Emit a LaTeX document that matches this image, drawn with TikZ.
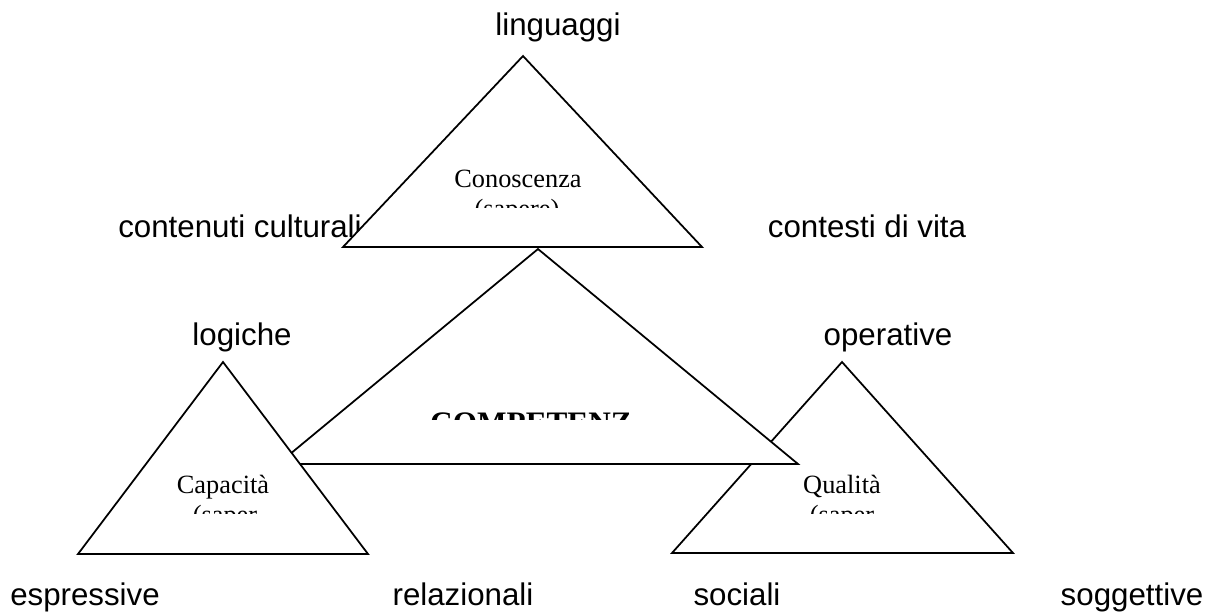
\documentclass[tikz,border=0pt]{standalone}
\usepackage{fontspec}
\setmainfont{Liberation Sans}
\newfontfamily\serifface{Liberation Serif}
\begin{document}
\begin{tikzpicture}
    [
    x=0.02cm, y=-0.02cm,
    tri/.style={draw,fill=white,line width=1pt,line join=miter},
    word/.style={anchor=base,inner sep=0pt,font=\fontsize{17.8}{21}\selectfont},
    inside/.style={anchor=base,inner sep=0pt,font=\serifface\fontsize{15}{18}\selectfont}
    ]
    \useasboundingbox (0,0) rectangle (1222,613);
    % labels round the triangles
    \node (lng) at (558,35) [word] {linguaggi};
    \node (cul) at (240,237) [word] {contenuti culturali};
    \node (vit) at (867,237) [word] {contesti di vita};
    \node (log) at (242,345) [word] {logiche};
    \node (ope) at (888,345) [word] {operative};
    \node (esp) at (85,605) [word] {espressive};
    \node (rel) at (463,605) [word] {relazionali};
    \node (soc) at (737,605) [word] {sociali};
    \node (sog) at (1132,605) [word] {soggettive};

    % qualita
    \draw [tri] (672,553) -- (842,362) -- (1013,553) -- cycle;
    \node (qua) at (842,493) [inside] {Qualità};
    \begin{scope}
      \clip (780,495) rectangle (900,513);
      \node (qsa) at (842,523) [inside] {(saper};
    \end{scope}

    % competenze
    \draw [tri] (278,464) -- (538,249) -- (798,464) -- cycle;
    \begin{scope}
      \clip (400,400) rectangle (660,419);
      \node (com) at (531,433) [inside,font=\serifface\bfseries\fontsize{17.8}{21}\selectfont] {COMPETENZ};
    \end{scope}

    % capacita
    \draw [tri] (78,554) -- (223,362) -- (368,554) -- cycle;
    \node (cap) at (223,493) [inside] {Capacità};
    \begin{scope}
      \clip (160,495) rectangle (290,513);
      \node (csa) at (225,523) [inside] {(saper};
    \end{scope}

    % conoscenza
    \draw [tri] (343,247) -- (523,56) -- (702,247) -- cycle;
    \node (con) at (518,187) [inside] {Conoscenza};
    \begin{scope}
      \clip (440,190) rectangle (600,207);
      \node (ksa) at (517,217) [inside] {(sapere)};
    \end{scope}
  \end{tikzpicture}
\end{document}
